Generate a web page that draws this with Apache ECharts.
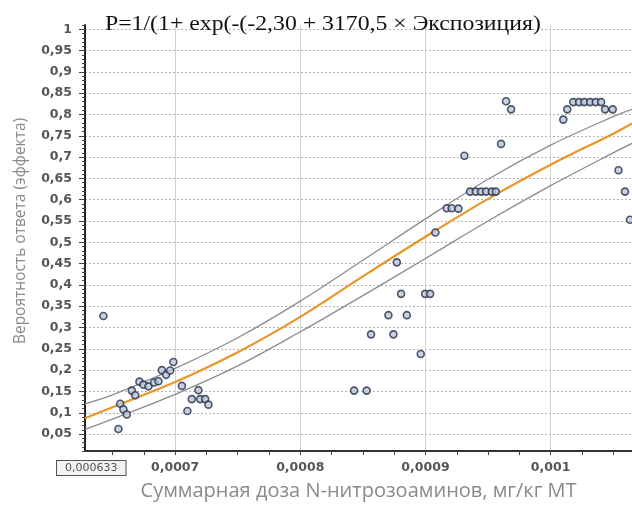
<!DOCTYPE html>
<html><head><meta charset="utf-8">
<script src="https://cdn.jsdelivr.net/npm/echarts@6/dist/echarts.min.js"></script>
<style>html,body{margin:0;padding:0;background:#fff}#c{width:632px;height:506px}</style>
</head><body><div id="c"></div>
<script>
const titleText = 'P=1/(1+ exp(-(-2,30 + 3170,5 × Экспозиция)';
const xName = 'Суммарная доза N-нитрозоаминов, мг/кг МТ';
const yName = 'Вероятность ответа (эффекта)';
const xMin = 0.000628, xMax = 0.001065;
const yMin = 0.01, yMax = 1.01, yMinorStep = 0.01;
const markedX = 0.000633;
const xLabelValues = [0.000633, 0.0007, 0.0008, 0.0009, 0.001];
const xGridValues = [0.0007, 0.0008, 0.0009, 0.001];
const xMinorTicks = [0.00065, 0.000675, 0.0007, 0.000725, 0.00075, 0.000775, 0.0008, 0.000825, 0.00085, 0.000875, 0.0009, 0.000925, 0.00095, 0.000975, 0.001, 0.001025, 0.00105];
const yTickValues = [0.05, 0.1, 0.15, 0.2, 0.25, 0.3, 0.35, 0.4, 0.45, 0.5, 0.55, 0.6, 0.65, 0.7, 0.75, 0.8, 0.85, 0.9, 0.95, 1];

// observed points [dose, probability]
const observed = [
  [0.0006427, 0.327], [0.0006547, 0.062], [0.0006561, 0.121], [0.0006587, 0.108], [0.0006614, 0.096],
  [0.0006654, 0.152], [0.0006681, 0.141], [0.0006715, 0.173], [0.0006747, 0.166], [0.0006787, 0.162],
  [0.0006832, 0.171], [0.0006867, 0.174], [0.0006894, 0.200], [0.0006928, 0.189], [0.000696, 0.199],
  [0.0006986, 0.219], [0.0007054, 0.163], [0.0007098, 0.104], [0.0007133, 0.132], [0.0007186, 0.153],
  [0.00072, 0.132], [0.000724, 0.132], [0.0007266, 0.119],
  [0.000843, 0.152], [0.000853, 0.152], [0.0008565, 0.284], [0.0008704, 0.329], [0.0008744, 0.284],
  [0.0008771, 0.453], [0.0008805, 0.379], [0.0008851, 0.329], [0.0008962, 0.238], [0.0008997, 0.379],
  [0.0009037, 0.379], [0.0009079, 0.523], [0.000917, 0.580], [0.000921, 0.580], [0.0009263, 0.579],
  [0.0009311, 0.703], [0.0009356, 0.619], [0.0009402, 0.619], [0.0009444, 0.619], [0.0009484, 0.619],
  [0.000953, 0.619], [0.0009562, 0.619], [0.0009604, 0.731], [0.0009644, 0.831], [0.0009684, 0.812],
  [0.0010101, 0.788], [0.0010133, 0.812], [0.0010181, 0.829], [0.0010227, 0.829], [0.0010269, 0.829],
  [0.0010315, 0.829], [0.001036, 0.829], [0.0010403, 0.829], [0.0010435, 0.812], [0.0010496, 0.812],
  [0.0010542, 0.669], [0.0010594, 0.619], [0.0010634, 0.553]
];

// fitted curve and confidence band
const curveX = [0.000628, 0.00065, 0.0007, 0.00075, 0.0008, 0.00085, 0.0009, 0.00095, 0.001, 0.00105, 0.001065];
const fitP   = [0.087, 0.113, 0.172, 0.242, 0.325, 0.420, 0.513, 0.602, 0.682, 0.755, 0.779];
const upperP = [0.121, 0.142, 0.204, 0.276, 0.362, 0.458, 0.555, 0.648, 0.728, 0.795, 0.812];
const lowerP = [0.061, 0.085, 0.143, 0.210, 0.290, 0.375, 0.462, 0.550, 0.633, 0.710, 0.732];

const zip = (xs, ys) => xs.map((x, i) => [x, ys[i]]);
const fmt = v => String(+v.toPrecision(6)).replace('.', ',');

const chart = echarts.init(document.getElementById('c'), null, {renderer: 'canvas'});
chart.setOption({
  animation: false,
  backgroundColor: '#fff',
  graphic: [{
    type: 'text', x: 105, y: 13, scaleX: 1.08, z: 10,
    style: {text: titleText, fontFamily: 'Liberation Serif', fontSize: 22, fill: '#111'}
  }, {
    type: 'text', x: 21, y: 231, rotation: Math.PI / 2, z: 10,
    style: {text: yName, fontFamily: 'Open Sans', fontSize: 15.5, fill: '#8a8a8a',
      align: 'center', verticalAlign: 'middle'}
  }],
  grid: {left: 85, right: 0, top: 25, bottom: 48, containLabel: false},
  xAxis: [{
    type: 'value', min: xMin, max: xMax, position: 'bottom',
    name: xName, nameLocation: 'middle', nameGap: 28,
    nameTextStyle: {fontFamily: 'Open Sans', fontSize: 20, color: '#8a8a8a'},
    axisLine: {show: true, onZero: false, lineStyle: {color: '#333', width: 2}},
    axisTick: {show: true, customValues: xMinorTicks, length: 4, lineStyle: {color: '#444'}},
    axisLabel: {
      customValues: xLabelValues, margin: 10,
      fontFamily: 'DejaVu Sans', fontSize: 12.5, fontWeight: 'bold', color: '#555',
      formatter: v => Math.abs(v - markedX) < 1e-9 ? '{box|' + fmt(v) + '}' : fmt(v),
      rich: {box: {fontFamily: 'DejaVu Sans', fontSize: 11, fontWeight: 'normal', color: '#555',
        borderColor: '#555', borderWidth: 1, padding: [2, 8, 1, 8], backgroundColor: '#f2f2f2'}}
    },
    splitLine: {show: false}
  }, {
    type: 'value', min: xMin, max: xMax, position: 'bottom',
    axisLine: {show: false}, axisLabel: {show: false},
    axisTick: {show: false, customValues: xGridValues},
    splitLine: {show: true, lineStyle: {color: '#d2d2d2', width: 1, type: 'solid'}}
  }],
  yAxis: [{
    type: 'value', min: yMin, max: yMax, interval: yMinorStep, position: 'left',
    axisLine: {show: true, onZero: false, lineStyle: {color: '#222', width: 2}},
    axisTick: {show: true, length: 3, lineStyle: {color: '#444'}},
    axisLabel: {show: false}, splitLine: {show: false}
  }, {
    type: 'value', min: yMin, max: yMax, position: 'left',
    axisLine: {show: false},
    axisTick: {show: true, customValues: yTickValues, length: 6, lineStyle: {color: '#444'}},
    axisLabel: {customValues: yTickValues, margin: 13, fontFamily: 'DejaVu Sans', fontSize: 12.5,
      fontWeight: 'bold', color: '#555', formatter: v => fmt(v)},
    splitLine: {show: true, lineStyle: {color: '#b5b5b5', width: 1, type: [2, 2]}}
  }],
  series: [
    {type: 'line', name: 'upper', data: zip(curveX, upperP), smooth: 0.35, showSymbol: false,
      lineStyle: {color: '#8c8c8c', width: 1.3}, z: 3},
    {type: 'line', name: 'lower', data: zip(curveX, lowerP), smooth: 0.35, showSymbol: false,
      lineStyle: {color: '#8c8c8c', width: 1.3}, z: 3},
    {type: 'line', name: 'fit', data: zip(curveX, fitP), smooth: 0.35, showSymbol: false,
      lineStyle: {color: '#e8962a', width: 2.2}, z: 4},
    {type: 'scatter', name: 'obs', data: observed, symbol: 'circle', symbolSize: 7,
      itemStyle: {color: '#b9c6d8', borderColor: '#24304a', borderWidth: 1.6}, z: 5}
  ]
});
</script>
</body></html>
